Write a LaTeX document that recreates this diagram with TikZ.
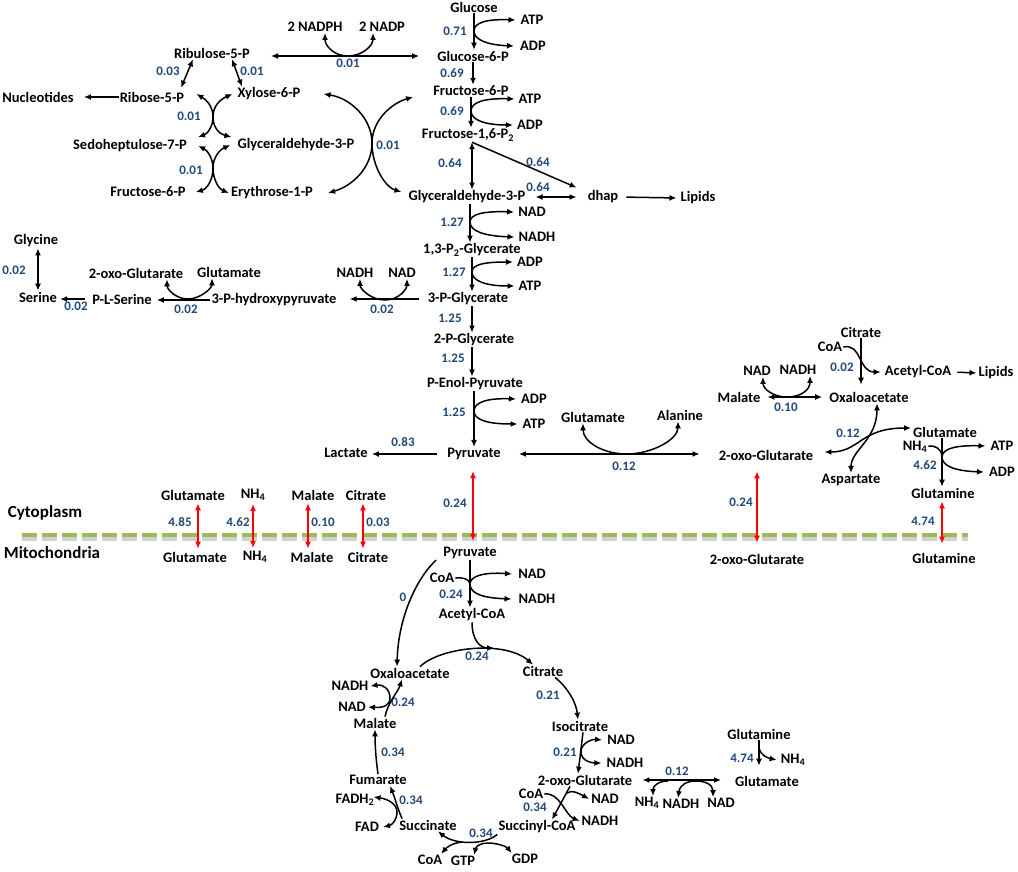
\documentclass[tikz,border=0pt]{standalone}
\usepackage{fontspec}
\setmainfont{Carlito}
\usetikzlibrary{arrows.meta}
\definecolor{numblue}{RGB}{31,73,125}
\definecolor{memgreen}{RGB}{155,187,89}
\begin{document}
\begin{tikzpicture}[x=1pt,y=-1pt,
  lab/.style={font=\bfseries\fontsize{14.5}{16}\selectfont, inner sep=1pt},
  numl/.style={font=\bfseries\fontsize{13}{15}\selectfont, text=numblue, inner sep=1pt},
  big/.style={font=\bfseries\fontsize{17}{19}\selectfont, inner sep=1pt},
  arw/.style={-{Latex[length=7pt,width=6pt]}, line width=1.5pt},
  darw/.style={{Latex[length=7pt,width=6pt]}-{Latex[length=7pt,width=6pt]}, line width=1.5pt},
  rarw/.style={darw, draw=red},
  plainl/.style={line width=1.5pt},
]
\useasboundingbox[fill=white] (0,0) rectangle (1018,871);

% ---------- pentose phosphate ----------
\node[lab] (nadph) at (315,27) {2 NADPH};
\node[lab] (nadp) at (382,27) {2 NADP};
\node[lab] (ru5p) at (212,53) {Ribulose-5-P};
\node[lab] (nucl) at (38,97) {Nucleotides};
\node[lab] (r5p) at (152,97) {Ribose-5-P};
\node[lab] (x6p) at (269,94) {Xylose-6-P};
\node[lab] (s7p) at (130,146) {Sedoheptulose-7-P};
\node[lab] (gap1) at (296,145) {Glyceraldehyde-3-P};
\node[lab] (f6p1) at (148,192) {Fructose-6-P};
\node[lab] (e4p) at (272,193) {Erythrose-1-P};

% ---------- glycolysis ----------
\node[lab] (glc) at (474,7) {Glucose};
\node[lab] (atp1) at (532,20) {ATP};
\node[lab] (adp1) at (533,46) {ADP};
\node[lab] (g6p) at (473,56) {Glucose-6-P};
\node[lab] (f6p) at (471,91) {Fructose-6-P};
\node[lab] (atp2) at (530,99) {ATP};
\node[lab] (adp2) at (530,125) {ADP};
\node[lab] (fbp) at (468,135) {Fructose-1,6-P\textsubscript{2}};
\node[lab] (gap) at (467,197) {Glyceraldehyde-3-P};
\node[lab] (dhap) at (603,197) {dhap};
\node[lab] (lip1) at (698,198) {Lipids};
\node[lab] (nad1) at (532,212) {NAD};
\node[lab] (nadh1) at (537,237) {NADH};
\node[lab] (bpg) at (472,250) {1,3-P\textsubscript{2}-Glycerate};
\node[lab] (adp3) at (530,262) {ADP};
\node[lab] (atp3) at (530,286) {ATP};
\node[lab] (pg3) at (468,299) {3-P-Glycerate};
\node[lab] (pg2) at (474,340) {2-P-Glycerate};
\node[lab] (pep) at (475,384) {P-Enol-Pyruvate};
\node[lab] (adp4) at (534,399) {ADP};
\node[lab] (atp4) at (534,424) {ATP};
\node[lab] (pyr) at (474,454) {Pyruvate};
\node[lab] (lac) at (346,453) {Lactate};
\node[lab] (glu2) at (593,417) {Glutamate};
\node[lab] (ala) at (680,415) {Alanine};
\node[lab] (oxg2) at (766,455) {2-oxo-Glutarate};

% ---------- serine ----------
\node[lab] (nadh2) at (355,273) {NADH};
\node[lab] (nad2) at (402,273) {NAD};
\node[lab] (php) at (274,300) {3-P-hydroxypyruvate};
\node[lab] (oxg1) at (136,273) {2-oxo-Glutarate};
\node[lab] (glu1) at (229,272) {Glutamate};
\node[lab] (pser) at (122,299) {P-L-Serine};
\node[lab] (ser) at (38,297) {Serine};
\node[lab] (gly) at (36,241) {Glycine};

% ---------- right top ----------
\node[lab] (cit1) at (861,332) {Citrate};
\node[lab] (coa1) at (830,347) {CoA};
\node[lab] (accoa1) at (918,372) {Acetyl-CoA};
\node[lab] (lip2) at (996,373) {Lipids};
\node[lab] (nad3) at (757,371) {NAD};
\node[lab] (nadh3) at (798,370) {NADH};
\node[lab] (mal1) at (739,397) {Malate};
\node[lab] (oaa1) at (869,397) {Oxaloacetate};
\node[lab] (glu3) at (945,432) {Glutamate};
\node[lab] (nh4a) at (915,447) {NH\textsubscript{4}};
\node[lab] (atp5) at (1002,446) {ATP};
\node[lab] (adp5) at (1002,472) {ADP};
\node[lab] (asp) at (851,480) {Aspartate};
\node[lab] (gln1) at (943,493) {Glutamine};

% ---------- membrane ----------
\node[lab] (cglu) at (193,495) {Glutamate};
\node[lab] (cnh4) at (253,495) {NH\textsubscript{4}};
\node[lab] (cmal) at (313,495) {Malate};
\node[lab] (ccit) at (366,495) {Citrate};
\node[big] (cyto) at (45,513) {Cytoplasm};
\node[big] (mito) at (52,553) {Mitochondria};
\node[lab] (mglu) at (195,557) {Glutamate};
\node[lab] (mnh4) at (255,557) {NH\textsubscript{4}};
\node[lab] (mmal) at (312,557) {Malate};
\node[lab] (mcit) at (368,557) {Citrate};
\node[lab] (mpyr) at (470,553) {Pyruvate};
\node[lab] (moxg) at (757,559) {2-oxo-Glutarate};
\node[lab] (mgln) at (944,558) {Glutamine};

% ---------- TCA ----------
\node[lab] (coa2) at (442,578) {CoA};
\node[lab] (nad4) at (532,574) {NAD};
\node[lab] (nadh4) at (537,599) {NADH};
\node[lab] (accoa2) at (472,615) {Acetyl-CoA};
\node[lab] (cit2) at (543,671) {Citrate};
\node[lab] (oaa2) at (410,673) {Oxaloacetate};
\node[lab] (nadh5) at (350,686) {NADH};
\node[lab] (nad5) at (352,707) {NAD};
\node[lab] (mal2) at (375,723) {Malate};
\node[lab] (icit) at (580,726) {Isocitrate};
\node[lab] (nad6) at (621,740) {NAD};
\node[lab] (nadh6) at (625,763) {NADH};
\node[lab] (fum) at (378,780) {Fumarate};
\node[lab] (oxg3) at (585,780) {2-oxo-Glutarate};
\node[lab] (fadh2) at (355,800) {FADH\textsubscript{2}};
\node[lab] (coa3) at (531,794) {CoA};
\node[lab] (nad7) at (605,799) {NAD};
\node[lab] (nadh7) at (600,821) {NADH};
\node[lab] (fad) at (367,827) {FAD};
\node[lab] (suc) at (428,825) {Succinate};
\node[lab] (succoa) at (537,827) {Succinyl-CoA};
\node[lab] (coa4) at (430,860) {CoA};
\node[lab] (gtp) at (463,861) {GTP};
\node[lab] (gdp) at (525,859) {GDP};
\node[lab] (gln2) at (759,734) {Glutamine};
\node[lab] (nh4b) at (793,760) {NH\textsubscript{4}};
\node[lab] (glu4) at (767,781) {Glutamate};
\node[lab] (nh4c) at (647,803) {NH\textsubscript{4}};
\node[lab] (nadh8) at (681,804) {NADH};
\node[lab] (nad8) at (721,803) {NAD};

% ---------- numbers ----------
\node[numl] (v01) at (348,63) {0.01};
\node[numl] (v02) at (168,71) {0.03};
\node[numl] (v03) at (252,71) {0.01};
\node[numl] (v04) at (189,116) {0.01};
\node[numl] (v05) at (191,170) {0.01};
\node[numl] (v06) at (388,145) {0.01};
\node[numl] (v07) at (455,31) {0.71};
\node[numl] (v08) at (452,73) {0.69};
\node[numl] (v09) at (452,111) {0.69};
\node[numl] (v10) at (450,163) {0.64};
\node[numl] (v11) at (538,162) {0.64};
\node[numl] (v12) at (538,187) {0.64};
\node[numl] (v13) at (452,222) {1.27};
\node[numl] (v14) at (454,272) {1.27};
\node[numl] (v15) at (450,318) {1.25};
\node[numl] (v16) at (453,358) {1.25};
\node[numl] (v17) at (454,412) {1.25};
\node[numl] (v18) at (382,309) {0.02};
\node[numl] (v19) at (186,309) {0.02};
\node[numl] (v20) at (76,306) {0.02};
\node[numl] (v21) at (14,270) {0.02};
\node[numl] (v22) at (403,442) {0.83};
\node[numl] (v23) at (624,466) {0.12};
\node[numl] (v24) at (842,367) {0.02};
\node[numl] (v25) at (786,407) {0.10};
\node[numl] (v26) at (848,433) {0.12};
\node[numl] (v27) at (925,465) {4.62};
\node[numl] (v28) at (741,502) {0.24};
\node[numl] (v29) at (923,521) {4.74};
\node[numl] (v30) at (455,503) {0.24};
\node[numl] (v31) at (180,522) {4.85};
\node[numl] (v32) at (238,522) {4.62};
\node[numl] (v33) at (323,522) {0.10};
\node[numl] (v34) at (378,522) {0.03};
\node[numl] (v35) at (403,597) {0};
\node[numl] (v36) at (451,594) {0.24};
\node[numl] (v37) at (477,656) {0.24};
\node[numl] (v38) at (403,702) {0.24};
\node[numl] (v39) at (548,695) {0.21};
\node[numl] (v40) at (565,752) {0.21};
\node[numl] (v41) at (393,752) {0.34};
\node[numl] (v42) at (411,800) {0.34};
\node[numl] (v43) at (535,807) {0.34};
\node[numl] (v44) at (481,833) {0.34};
\node[numl] (v45) at (677,771) {0.12};
\node[numl] (v46) at (742,758) {4.74};

% ---------- reaction points ----------
\coordinate (pn) at (348,56);
\coordinate (k1) at (213,117);
\coordinate (k2) at (213,168);
\coordinate (k3) at (372,143);
\coordinate (p1) at (474,31);
\coordinate (p2) at (471,111);
\coordinate (p3) at (470,222);
\coordinate (p4) at (472,272);
\coordinate (p5) at (474,411);
\coordinate (p6) at (385,300);
\coordinate (p7) at (188,299);
\coordinate (p8) at (627,454);
\coordinate (p9) at (787,397);
\coordinate (p10) at (942,457);
\coordinate (p11) at (470,584);
\coordinate (p12) at (494,648);
\coordinate (p13) at (581,752);
\coordinate (p14) at (567,793);
\coordinate (p15) at (462,842);
\coordinate (p16) at (397,812);
\coordinate (p17) at (390,698);
\coordinate (p18) at (668,781);
\coordinate (p19) at (759,748);

% ---------- pentose connectors ----------
\draw[darw,shorten <=20pt,shorten >=17pt] (ru5p.east |- pn) -- (g6p.west |- pn);
\draw[darw] ([xshift=10pt]nadph.south) .. controls +(0,13) and +(-14,0) .. (pn) .. controls +(14,0) and +(0,13) .. ([xshift=-9pt]nadp.south);
\draw[darw] ([xshift=-19pt]ru5p.south) -- ([xshift=29pt,yshift=3pt]r5p.north);
\draw[darw] ([xshift=20pt]ru5p.south) -- ([xshift=-27pt]x6p.north);
\draw[arw,shorten >=9pt] (r5p.west) -- (nucl.east);
\draw[darw] ([xshift=11pt,yshift=3pt]r5p.east) .. controls (207,100) and (213,107) .. (k1) .. controls (213,127) and (207,134) .. ([xshift=10pt,yshift=9pt]s7p.east);
\draw[darw] ([xshift=-4pt]x6p.west) .. controls (219,100) and (213,107) .. (k1) .. controls (213,127) and (219,134) .. ([xshift=-5pt,yshift=8pt]gap1.west);
\draw[darw] ([xshift=10pt]s7p.east) .. controls (207,150) and (213,158) .. (k2) .. controls (213,180) and (207,189) .. ([xshift=9pt]f6p1.east);
\draw[darw] ([xshift=-6pt]gap1.west) .. controls (219,150) and (213,158) .. (k2) .. controls (213,180) and (219,189) .. ([xshift=-1pt]e4p.west);
\draw[darw] ([xshift=22pt]x6p.east) .. controls (350,98) and (372,118) .. (k3) .. controls (372,168) and (352,186) .. ([xshift=14pt]e4p.east);
\draw[darw] ([xshift=-19pt,yshift=-6pt]f6p.west) .. controls (392,103) and (372,120) .. (k3) .. controls (372,166) and (385,187) .. ([xshift=-6pt,yshift=5pt]gap.west);

% ---------- glycolysis connectors ----------
\draw[arw] (glc.south) -- (glc.south |- g6p.north);
\draw[darw] ([xshift=-4pt]atp1.west) .. controls (488,19) and (474,22) .. (p1) .. controls (474,40) and (488,45) .. ([xshift=-5pt]adp1.west);
\draw[arw] (g6p.south) -- (g6p.south |- f6p.north);
\draw[arw] (f6p.south) -- (f6p.south |- fbp.north);
\draw[darw] ([xshift=-3pt]atp2.west) .. controls (485,98) and (471,102) .. (p2) .. controls (471,120) and (485,125) .. ([xshift=-3pt]adp2.west);
\draw[darw] ([xshift=4pt]fbp.south) -- ([xshift=4pt]fbp.south |- gap.north);
\draw[arw] ([xshift=4pt]fbp.south) -- ([xshift=-10pt,yshift=2pt]dhap.north west);
\draw[darw,shorten <=9pt,shorten >=10pt] (gap.east) -- (dhap.west);
\draw[arw,shorten <=7pt,shorten >=3pt] (dhap.east) -- (lip1.west);
\draw[arw] ([xshift=3pt]gap.south) -- ([xshift=3pt]gap.south |- bpg.north);
\draw[darw] ([xshift=-3pt]nad1.west) .. controls (484,211) and (470,214) .. (p3) .. controls (470,231) and (484,236) .. ([xshift=-3pt]nadh1.west);
\draw[arw] (bpg.south) -- (bpg.south |- pg3.north);
\draw[darw] ([xshift=-3pt]adp3.west) .. controls (486,262) and (472,264) .. (p4) .. controls (472,281) and (486,286) .. ([xshift=-3pt]atp3.west);
\draw[arw] ([xshift=4pt]pg3.south) -- ([xshift=4pt]pg3.south |- pg2.north);
\draw[arw] ([xshift=-2pt]pg2.south) -- ([xshift=-2pt]pg2.south |- pep.north);
\draw[arw] ([xshift=-1pt]pep.south) -- ([xshift=-1pt]pep.south |- pyr.north);
\draw[darw] ([xshift=-4pt]adp4.west) .. controls (488,398) and (474,402) .. (p5) .. controls (474,420) and (488,424) .. ([xshift=-4pt]atp4.west);

% ---------- serine connectors ----------
\draw[arw,shorten <=8pt,shorten >=12pt] (pg3.west) -- (pg3.west -| php.east);
\draw[darw] ([xshift=5pt]nadh2.south) .. controls +(0,10) and +(-14,0) .. (p6) .. controls +(14,0) and +(0,10) .. ([xshift=5pt]nad2.south);
\draw[arw,shorten >=4pt] (php.west) -- (php.west -| pser.east);
\draw[darw] ([xshift=31pt]oxg1.south) .. controls +(0,10) and +(-12,0) .. (p7) .. controls +(12,0) and +(0,10) .. ([xshift=-17pt]glu1.south);
\draw[arw,shorten <=6pt,shorten >=2pt] (pser.west) -- (pser.west -| ser.east);
\draw[darw] ([xshift=2pt]gly.south) -- ([xshift=2pt]gly.south |- ser.north);

% ---------- pyruvate connectors ----------
\draw[arw,shorten <=9pt,shorten >=3pt] (pyr.west) -- (pyr.west -| lac.east);
\draw[darw,shorten <=17pt,shorten >=18pt] (pyr.east) -- (pyr.east -| oxg2.west);
\draw[darw] ([xshift=-10pt]glu2.south) .. controls +(0,18) and +(-25,0) .. (p8) .. controls +(25,0) and +(0,18) .. ([xshift=-2pt]ala.south);

% ---------- right top connectors ----------
\draw[arw,shorten >=6pt] (cit1.south) -- (cit1.south |- oaa1.north);
\draw[arw] (coa1.east) .. controls (862,343) and (858,372) .. ([xshift=-3pt]accoa1.west);
\draw[arw,shorten <=5pt,shorten >=1pt] (accoa1.east) -- (lip2.west);
\draw[darw,shorten <=6pt,shorten >=6pt] (mal1.east) -- (oaa1.west);
\draw[darw] ([xshift=6pt]nad3.south) .. controls +(0,12) and +(-14,0) .. (p9) .. controls +(14,0) and +(0,14) .. ([xshift=12pt]nadh3.south);
\draw[darw] (asp.north) .. controls (851,450) and (877,440) .. ([xshift=8pt]oaa1.south);
\draw[darw] ([xshift=10pt,yshift=3pt]oxg2.east) .. controls (860,452) and (860,428) .. ([xshift=-1pt,yshift=4pt]glu3.west);
\draw[arw] ([xshift=-3pt]glu3.south) -- ([xshift=-3pt]glu3.south |- gln1.north);
\draw[plainl] ([yshift=1pt]nh4a.east) .. controls (935,445) and (942,449) .. (p10);
\draw[darw] ([xshift=-4pt]atp5.west) .. controls (955,445) and (942,449) .. (p10) .. controls (942,466) and (955,471) .. ([xshift=-4pt]adp5.west);

% ---------- membrane ----------
\draw[line width=4pt, black, opacity=.18, dash pattern=on 15pt off 5pt] (22,538.5) -- (968,538.5);
\draw[line width=4pt, memgreen, dash pattern=on 15pt off 5pt] (22,535) -- (968,535);
\draw[rarw,shorten <=2pt,shorten >=2pt] ([xshift=5pt]cglu.south) -- ([xshift=3pt]mglu.north);
\draw[rarw,shorten <=2pt,shorten >=2pt] (cnh4.south) -- ([xshift=-2pt]mnh4.north);
\draw[rarw,shorten <=2pt,shorten >=2pt] ([xshift=-5pt]cmal.south) -- ([xshift=-4pt]mmal.north);
\draw[rarw,shorten <=2pt,shorten >=2pt] ([xshift=-3pt]ccit.south) -- ([xshift=-5pt]mcit.north);
\draw[rarw,shorten <=10pt,shorten >=5pt] ([xshift=-1pt]pyr.south) -- ([xshift=3pt]mpyr.north);
\draw[rarw,shorten <=10pt,shorten >=10pt] ([xshift=-9pt]oxg2.south) -- (moxg.north);
\draw[rarw,shorten <=2pt,shorten >=8pt] ([xshift=-1pt]gln1.south) -- ([xshift=-2pt]mgln.north);

% ---------- TCA connectors ----------
\draw[arw] (mpyr.south) -- (mpyr.south |- accoa2.north);
\draw[plainl] (coa2.east) .. controls (462,577) and (470,579) .. (p11);
\draw[darw] ([xshift=-5pt]nad4.west) .. controls (484,572) and (470,576) .. (p11) .. controls (470,594) and (484,598) .. ([xshift=-6pt]nadh4.west);
\draw[arw] ([xshift=-6pt]mpyr.south west) .. controls (415,580) and (398,620) .. ([xshift=-13pt]oaa2.north);
\draw[arw] ([xshift=10pt]oaa2.north) .. controls (440,647) and (505,640) .. ([xshift=-10pt]cit2.north);
\draw[arw] (accoa2.south) .. controls (472,640) and (480,648) .. (p12);
\draw[arw] ([xshift=12pt]cit2.south) .. controls (568,688) and (576,702) .. ([xshift=-2pt]icit.north);
\draw[arw] ([xshift=3pt]icit.south) -- ([xshift=-7pt]oxg3.north);
\draw[darw] ([xshift=-4pt]nad6.west) .. controls (592,739) and (581,743) .. (p13) .. controls (581,761) and (592,763) .. ([xshift=-4pt]nadh6.west);
\draw[arw] ([xshift=-15pt]oxg3.south) -- ([xshift=15pt]succoa.north);
\draw[arw] (coa3.east) .. controls (560,792) and (565,815) .. ([xshift=-1pt]nadh7.west);
\draw[arw] (p14) .. controls (572,789) and (580,794) .. ([xshift=-1pt]nad7.west);
\draw[arw] (succoa.south west) .. controls (485,845) and (455,845) .. ([xshift=10pt]suc.south);
\draw[arw] (p15) .. controls (452,843) and (446,848) .. ([xshift=-2pt]coa4.north east);
\draw[darw] ([xshift=-2pt]gtp.north east) .. controls (476,846) and (481,843) .. (488,843) .. controls (496,843) and (506,846) .. ([xshift=1pt]gdp.north west);
\draw[arw] ([xshift=4pt]suc.north west) .. controls (398,810) and (395,798) .. ([xshift=12pt]fum.south);
\draw[darw] ([xshift=-2pt,yshift=3pt]fadh2.east) .. controls (388,799) and (397,804) .. (p16) .. controls (397,820) and (392,825) .. ([xshift=3pt]fad.east);
\draw[arw] (fum.north) .. controls (376,760) and (375,745) .. (mal2.south);
\draw[arw] ([xshift=10pt]mal2.north) .. controls (388,702) and (398,692) .. ([xshift=-8pt]oaa2.south);
\draw[darw] ([xshift=1pt]nadh5.east) .. controls (384,684) and (390,690) .. (p17) .. controls (390,705) and (384,708) .. ([xshift=1pt]nad5.east);

% ---------- mito glutamate ----------
\draw[darw,shorten <=9pt,shorten >=13pt] (oxg3.east) -- (oxg3.east -| glu4.west);
\draw[arw] (p18) .. controls (660,781) and (653,785) .. ([xshift=6pt]nh4c.north);
\draw[darw] ([xshift=-3pt]nadh8.north) .. controls (680,784) and (688,781) .. (696,781) .. controls (704,781) and (713,784) .. ([xshift=-8pt]nad8.north);
\draw[arw,shorten >=9pt] (gln2.south) -- (gln2.south |- glu4.north);
\draw[arw] (p19) .. controls (761,756) and (768,758) .. ([xshift=-3pt]nh4b.west);
\end{tikzpicture}
\end{document}
